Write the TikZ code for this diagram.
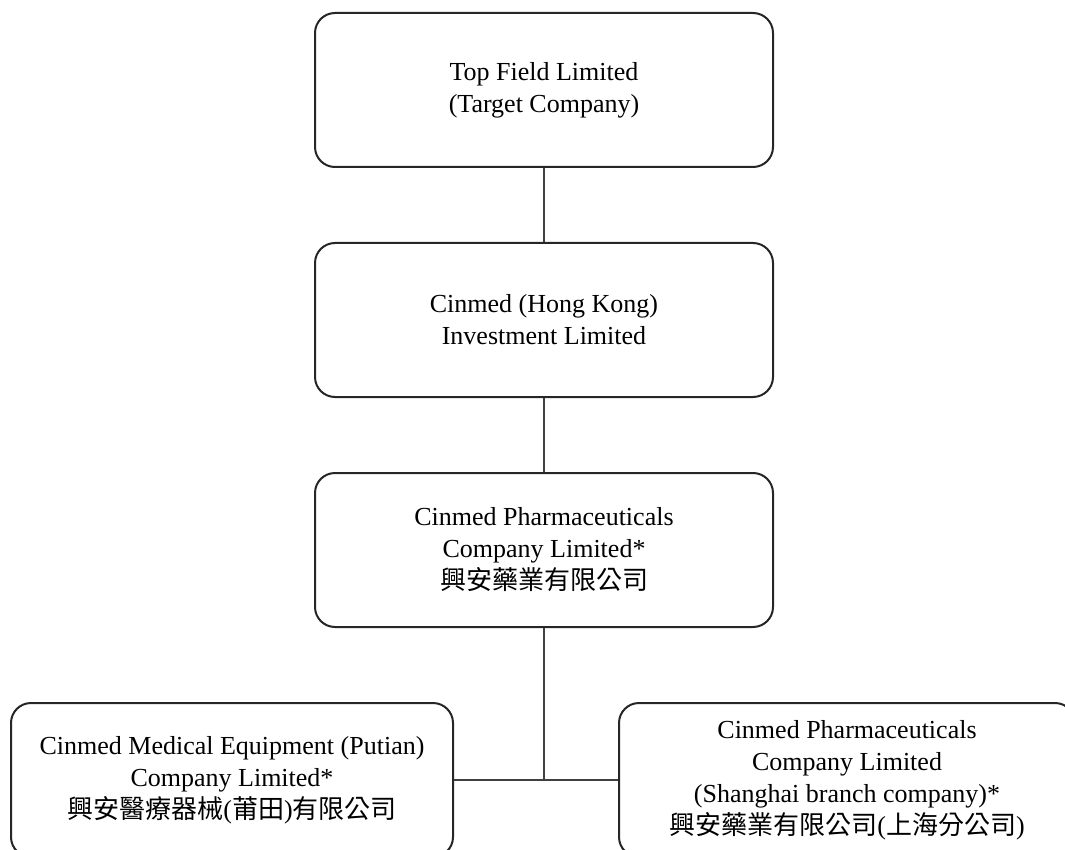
\documentclass[tikz,border=0pt]{standalone}
\usepackage{fontspec}
\setmainfont{Liberation Serif}
\newfontfamily\cjk{Noto Sans CJK TC}
\usetikzlibrary{positioning,calc}

\begin{document}
\begin{tikzpicture}[x=0.5pt, y=-0.5pt,
  entity/.style={draw=black!85, line width=1pt, rounded corners=10pt,
    minimum width=229pt, minimum height=77pt, inner sep=0pt,
    align=center, font=\fontsize{13}{16}\selectfont},
  link/.style={draw=black!75, line width=0.7pt}]
  \useasboundingbox (0,0) rectangle (1065,850);

  % Holding chain
  \node[entity] (target) at (544, 90) {Top Field Limited\\(Target Company)};
  \node[entity] (hongkong) at (544, 320) {Cinmed (Hong Kong)\\Investment Limited};
  \node[entity] (pharma) at (544, 550) {Cinmed Pharmaceuticals\\Company Limited*\\{\cjk 興安藥業有限公司}};

  % Subsidiaries
  \node[entity, minimum width=221pt] (putian) at (232, 780)
    {Cinmed Medical Equipment (Putian)\\Company Limited*\\{\cjk 興安醫療器械}({\cjk 莆田}){\cjk 有限公司}};
  \node[entity, minimum width=228pt] (shanghai) at (847, 780)
    {Cinmed Pharmaceuticals\\Company Limited\\(Shanghai branch company)*\\{\cjk 興安藥業有限公司}({\cjk 上海分公司})};

  % Links
  \draw[link] (target) -- (hongkong);
  \draw[link] (hongkong) -- (pharma);
  \coordinate (split) at (pharma.south |- putian.east);
  \draw[link] (pharma) -- (split);
  \draw[link] (putian) -- (shanghai);
\end{tikzpicture}
\end{document}
